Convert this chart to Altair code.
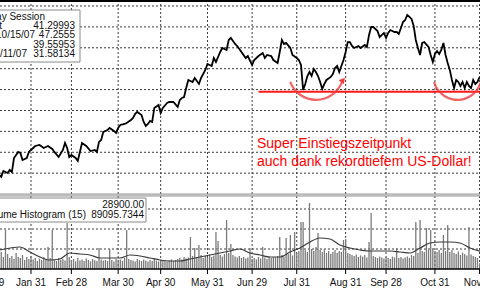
import altair as alt
import pandas as pd

# ---------------- data (trading-day index: 0 = Dec 29, 2006) ----------------
price_days = [5, 6, 7, 9, 10, 11, 12, 14, 15, 16, 18, 19, 20, 22, 24, 26, 28, 30, 31, 33,
              35, 36, 37, 38, 39, 41, 42, 43, 44, 46, 48, 50, 51, 52, 53, 54, 56, 57, 59, 60,
              61, 62, 64, 65, 67, 68, 69, 70, 72, 73, 74, 75, 76, 77, 78, 80, 81, 82, 84, 85,
              87, 89, 90, 91, 92, 93, 94, 96, 97, 99, 100, 102, 103, 105, 106, 107, 109, 110, 112, 113,
              114, 116, 117, 118, 121, 122, 124, 125, 127, 129, 130, 131, 133, 134, 136, 137, 138, 139, 140, 142,
              143, 145, 146, 147, 148, 149, 150, 151, 152, 153, 154, 155, 156, 157, 158, 159, 161, 162, 163, 164,
              165, 166, 167, 168, 169, 170, 171, 172, 174, 175, 177, 178, 179, 180, 181, 183, 184, 186, 187, 188,
              189, 191, 192, 193, 195, 196, 197, 198, 199, 200, 201, 202, 203, 204, 205, 207, 208, 209, 210, 211,
              212, 213, 214, 215, 216, 217, 218, 219, 220, 221, 222, 223, 224, 225, 226, 227, 228, 229, 230, 231]
price_close = [31.83, 31.64, 32.21, 32.02, 32.31, 32.11, 33.45, 34.03, 33.94, 33.26, 33.45, 34.03, 34.22, 34.60, 34.70, 34.41, 34.60, 34.32, 34.03, 33.55,
               34.22, 34.89, 34.41, 33.55, 33.74, 33.45, 33.17, 34.03, 34.89, 34.60, 34.12, 34.22, 34.03, 34.99, 35.18, 35.94, 36.13, 36.33, 36.04, 35.85,
               36.33, 36.61, 36.71, 36.80, 37.09, 37.28, 37.67, 37.86, 37.57, 36.90, 36.52, 36.71, 37.00, 36.90, 38.24, 38.53, 37.76, 38.24, 38.72, 38.81,
               38.81, 38.33, 39.00, 39.20, 39.29, 40.15, 40.92, 40.73, 41.11, 40.54, 41.11, 41.88, 42.45, 42.26, 43.02, 42.64, 43.60, 43.98, 43.79, 44.75,
               44.94, 44.36, 44.17, 43.89, 43.02, 43.21, 42.35, 42.83, 43.21, 43.50, 43.02, 43.31, 43.21, 42.83, 42.55, 43.60, 44.75, 44.36, 44.46, 43.98,
               43.31, 43.02, 42.83, 42.35, 39.96, 40.54, 41.30, 41.68, 41.30, 41.97, 41.68, 41.30, 40.73, 40.06, 40.54, 40.92, 41.21, 41.49, 42.07, 42.26,
               41.68, 42.26, 42.83, 43.60, 44.55, 44.55, 44.17, 43.98, 44.17, 43.98, 44.27, 44.08, 45.22, 45.99, 45.99, 45.61, 45.03, 45.42, 44.94, 45.42,
               45.70, 45.51, 45.51, 45.32, 46.47, 46.66, 47.14, 46.95, 46.76, 46.09, 44.75, 43.98, 43.31, 44.46, 44.55, 44.08, 43.31, 42.64, 43.41, 43.69,
               43.41, 43.79, 44.46, 43.31, 42.55, 41.88, 40.92, 40.15, 40.92, 40.73, 40.34, 40.73, 40.15, 40.73, 40.34, 40.15, 40.92, 40.54, 40.73, 41.20]

volume_first_day = 5
volume_thousands = [70, 85, 60, 195, 75, 55, 65, 50, 80, 60,
                    55, 70, 45, 60, 50, 65, 48, 55, 40, 52,
                    45, 60, 50, 110, 55, 195, 48, 40, 55, 45,
                    50, 42, 230, 60, 45, 50, 38, 55, 42, 48,
                    40, 52, 45, 38, 50, 44, 40, 105, 48, 42,
                    46, 40, 100, 45, 38, 50, 42, 48, 40, 55,
                    195, 50, 45, 42, 38, 50, 44, 40, 48, 42,
                    38, 45, 40, 50, 42, 38, 46, 40, 44, 38,
                    42, 48, 40, 45, 50, 55, 48, 60, 52, 58,
                    160, 65, 105, 60, 120, 70, 55, 65, 58, 72,
                    60, 68, 185, 140, 70, 62, 75, 245, 80, 125,
                    70, 62, 58, 65, 55, 60, 52, 58, 105, 50,
                    55, 48, 60, 52, 110, 58, 50, 62, 55, 60,
                    58, 65, 160, 70, 62, 155, 75, 170, 68, 185,
                    80, 90, 235, 235, 95, 85, 330, 100, 90, 110,
                    180, 95, 85, 100, 80, 90, 75, 85, 95, 80,
                    90, 85, 145, 150, 80, 75, 70, 65, 72, 60,
                    68, 62, 70, 58, 135, 280, 65, 60, 55, 62,
                    58, 52, 60, 55, 50, 62, 58, 105, 55, 60,
                    52, 58, 62, 55, 70, 65, 235, 80, 245, 90,
                    85, 205, 95, 195, 100, 90, 85, 95, 80, 170,
                    90, 220, 85, 95, 80, 75, 88, 70, 82, 75,
                    68, 210, 72, 65, 60, 55, 29]

ma_days = [5.4, 14.8, 19.5, 24.2, 28.9, 33.6, 38.3, 43.1, 47.7, 52.5, 57.2, 61.9, 66.6, 71.3, 76.0, 80.7,
           85.4, 90.1, 94.8, 99.5, 104.2, 108.9, 113.6, 118.3, 123.0, 127.7, 132.4, 137.1, 141.8, 146.5,
           151.2, 155.9, 160.6, 165.3, 170.0, 174.8, 179.5, 184.2, 188.9, 193.6, 198.3, 203.0, 207.7,
           212.4, 217.1, 221.8, 226.5, 231.2]
ma_thousands = [95, 110, 85, 60, 45, 50, 80, 75, 70, 55, 55, 55, 70, 65, 55, 45,
                40, 40, 50, 60, 70, 80, 90, 100, 80, 70, 60, 60, 85, 105,
                135, 155, 150, 120, 105, 95, 90, 90, 90, 85, 80, 105, 130,
                135, 135, 130, 105, 89]

month_end_days = [0, 20, 39, 61, 81, 103, 124, 145, 168, 187, 210, 231]
month_end_labels = ["Dec 29", "Jan 31", "Feb 28", "Mar 30", "Apr 30", "May 31",
                    "Jun 29", "Jul 31", "Aug 31", "Sep 28", "Oct 31", "Nov 30"]
price_grid = [32, 34, 36, 38, 40, 42, 44, 46, 48]
volume_grid_thousands = [100, 200, 300]

support_level = 39.8
support_from_day = 127
support_to_day = 232

arc_centers_day = [154.1, 220.6]
arc_centers_price = [41.67, 41.33]
arrow_day = [166.8]
arrow_price = [40.92]

session_labels = ["Day Session", "Last", "10/15/07", "", "1/11/07"]
session_values = ["", "41.29993", "47.2555", "39.55953", "31.58134"]
volume_legend_label = "Volume Histogram (15)"
volume_legend_values = ["28900.00", "89095.7344"]
note_lines = ["Super Einstiegszeitpunkt", "auch dank rekordtiefem US-Dollar!"]

# ---------------- scales ----------------
xs = alt.Scale(domain=[5.42, 231.2], range=[0, 480], nice=False, zero=False)
ys_price = alt.Scale(domain=[29.91, 48.574], range=[195, 0], nice=False, zero=False)
ys_vol = alt.Scale(domain=[0, 370], range=[269, 195], nice=False, zero=False)

X = lambda f: alt.X(f, type="quantitative", scale=xs, axis=None)
YP = lambda f: alt.Y(f, type="quantitative", scale=ys_price, axis=None)
YV = lambda f: alt.Y(f, type="quantitative", scale=ys_vol, axis=None)

FONT = "Liberation Sans"

price_df = pd.DataFrame({"day": price_days, "close": price_close})
vol_df = pd.DataFrame({"day": list(range(volume_first_day, volume_first_day + len(volume_thousands))),
                       "vol": volume_thousands})
vol_df["zero"] = 0
ma_df = pd.DataFrame({"day": ma_days, "ma": ma_thousands})
month_df = pd.DataFrame({"day": month_end_days, "label": month_end_labels})
pgrid_df = pd.DataFrame({"p": price_grid})
vgrid_df = pd.DataFrame({"v": volume_grid_thousands})
support_df = pd.DataFrame({"d1": [support_from_day], "d2": [support_to_day], "p": [support_level]})
arc_df = pd.DataFrame({"day": arc_centers_day, "price": arc_centers_price})
arrow_df = pd.DataFrame({"day": arrow_day, "price": arrow_price})

GRID = dict(color="#3a3a3a", strokeWidth=1, strokeDash=[2, 2])

layers = []
# horizontal grids
layers.append(alt.Chart(pgrid_df).mark_rule(**GRID).encode(
    y=YP("p"), x=alt.value(0), x2=alt.value(480)))
layers.append(alt.Chart(vgrid_df).mark_rule(**GRID).encode(
    y=YV("v"), x=alt.value(0), x2=alt.value(480)))
# vertical grids
layers.append(alt.Chart(month_df).mark_rule(**GRID).encode(
    x=X("day"), y=alt.value(0), y2=alt.value(269)))
# separator
layers.append(alt.Chart(alt.Data(values=[{}])).mark_rule(color="#9a9a9a", strokeWidth=3).encode(
    x=alt.value(0), x2=alt.value(480), y=alt.value(195)))
layers.append(alt.Chart(alt.Data(values=[{}])).mark_rule(color="#dcdcdc", strokeWidth=1).encode(
    x=alt.value(0), x2=alt.value(480), y=alt.value(195)))
# volume bars
layers.append(alt.Chart(vol_df).mark_rule(color="#7a7a7a", strokeWidth=1.3).encode(
    x=X("day"), y=YV("vol"), y2="zero"))
# moving average
layers.append(alt.Chart(ma_df).mark_line(color="#3c3c3c", strokeWidth=1.2, interpolate="monotone").encode(
    x=X("day"), y=YV("ma")))
# price
layers.append(alt.Chart(price_df).mark_line(color="#000000", strokeWidth=1.8).encode(
    x=X("day"), y=YP("close")))
# support line
layers.append(alt.Chart(support_df).mark_rule(color="#ff1a1a", strokeWidth=2).encode(
    x=X("d1"), x2="d2", y=YP("p")))
# arcs
layers.append(alt.Chart(arc_df.iloc[[0]]).mark_arc(radius=28.8, radius2=26.6, theta=1.91, theta2=4.35,
                                                   color="#f03c3c", opacity=0.8).encode(
    x=X("day"), y=YP("price")))
layers.append(alt.Chart(arc_df.iloc[[1]]).mark_arc(radius=25.3, radius2=23.1, theta=1.5, theta2=4.45,
                                                   color="#f03c3c", opacity=0.8).encode(
    x=X("day"), y=YP("price")))
layers.append(alt.Chart(arrow_df).mark_point(shape="triangle-up", filled=True, size=45, angle=38,
                                             color="#f03c3c", opacity=1).encode(
    x=X("day"), y=YP("price")))


def text(t, x, y, align, size=10, color="#111111", font=FONT):
    return alt.Chart(alt.Data(values=[{"t": t}])).mark_text(
        align=align, baseline="alphabetic", fontSize=size, color=color, font=font
    ).encode(x=alt.value(x), y=alt.value(y), text="t:N")


# session legend box
layers.append(alt.Chart(alt.Data(values=[{}])).mark_rect(fill="white", stroke="#8a8a8a", strokeWidth=1).encode(
    x=alt.value(-5), x2=alt.value(80), y=alt.value(10), y2=alt.value(62)))
label_right = [45, 2, 35, 0, 27]
baselines = [20, 29, 38, 48, 57]
for lab, val, lr, b in zip(session_labels, session_values, label_right, baselines):
    if lab:
        layers.append(text(lab, lr, b, "right"))
    if val:
        layers.append(text(val, 75, b, "right"))

# volume legend box
layers.append(alt.Chart(alt.Data(values=[{}])).mark_rect(fill="white", stroke="#8a8a8a", strokeWidth=1).encode(
    x=alt.value(-5), x2=alt.value(146), y=alt.value(198), y2=alt.value(222)))
layers.append(text(volume_legend_label, 86, 218, "right"))
layers.append(text(volume_legend_values[0], 144, 208, "right"))
layers.append(text(volume_legend_values[1], 144, 218, "right"))

# red note
layers.append(text(note_lines[0], 257, 148, "left", size=14, color="#ff0000", font=FONT))
layers.append(text(note_lines[1], 257, 166, "left", size=14, color="#ff0000", font=FONT))

# axis line, ticks, labels, top frame
layers.append(alt.Chart(alt.Data(values=[{}])).mark_rule(color="#000000", strokeWidth=1.5).encode(
    x=alt.value(0), x2=alt.value(480), y=alt.value(269)))
layers.append(alt.Chart(month_df).mark_rule(color="#000000", strokeWidth=1).encode(
    x=X("day"), y=alt.value(269), y2=alt.value(274)))
layers.append(alt.Chart(month_df).mark_text(align="center", baseline="alphabetic", fontSize=10,
                                            font=FONT, color="#111111").encode(
    x=X("day"), y=alt.value(286), text="label:N"))
layers.append(alt.Chart(alt.Data(values=[{}])).mark_rule(color="#000000", strokeWidth=2).encode(
    x=alt.value(0), x2=alt.value(480), y=alt.value(1)))

chart = alt.layer(*layers).resolve_scale(y="independent").properties(
    width=480, height=300, padding=0, autosize=alt.AutoSizeParams(type="none"), background="white"
).configure_view(strokeWidth=0)

chart.save("out.html", embed_options={"renderer": "svg", "actions": False})
